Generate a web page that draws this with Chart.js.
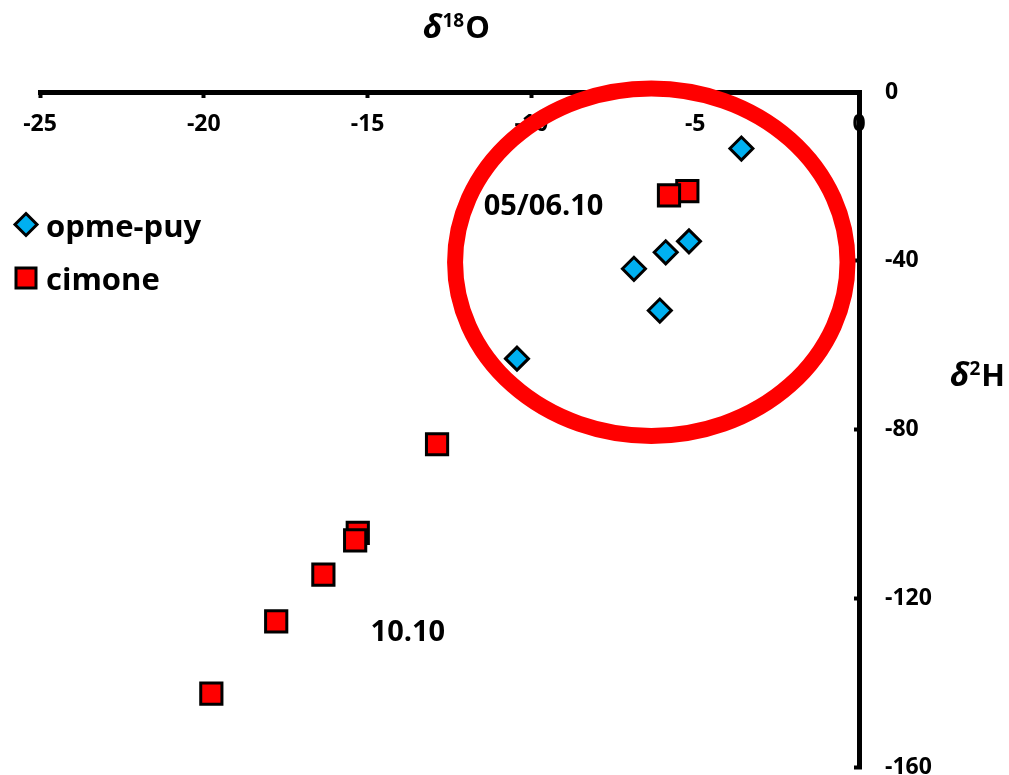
<!DOCTYPE html>
<html>
<head>
<meta charset="utf-8">
<script src="https://cdn.jsdelivr.net/npm/chart.js@4.4.1/dist/chart.umd.min.js"></script>
<style>
  html, body { margin: 0; padding: 0; background: #fff; overflow: hidden; }
  #wrap { width: 1009px; height: 785px; position: relative; }
</style>
</head>
<body>
<div id="wrap"><canvas id="chart"></canvas></div>
<script>
// data
const seriesNames = ['opme-puy', 'cimone'];
const opmeX = [-3.59, -5.19, -5.90, -6.87, -6.08, -10.44];
const opmeY = [-13.4, -35.4, -38.0, -41.9, -51.8, -63.2];
const cimoneX = [-5.24, -5.80, -12.88, -15.30, -15.38, -16.35, -17.79, -19.77];
const cimoneY = [-23.5, -24.5, -83.5, -104.5, -106.3, -114.4, -125.5, -142.6];
const xTicks = [-25, -20, -15, -10, -5, 0];
const yTicks = [0, -40, -80, -120, -160];
const groupLabels = ['05/06.10', '10.10'];

const FONT = "'Open Sans', 'DejaVu Sans', sans-serif";
Chart.defaults.font.family = FONT;
Chart.defaults.font.weight = 'bold';
Chart.defaults.color = '#000';

const toPoints = (xs, ys) => xs.map((x, i) => ({ x: x, y: ys[i] }));

// ellipse around the spring samples + group labels + legend + axis titles
const extras = {
  id: 'extras',
  afterDraw(chart) {
    const ctx = chart.ctx;
    const xs = chart.scales.x, ys = chart.scales.y;
    ctx.save();

    // red ellipse (data units)
    const cx = xs.getPixelForValue(-6.34), cy = ys.getPixelForValue(-40.35);
    const rx = xs.getPixelForValue(-6.34 + 5.99) - cx;
    const ry = ys.getPixelForValue(-40.35 - 41.18) - cy;
    ctx.beginPath();
    ctx.ellipse(cx, cy, Math.abs(rx), Math.abs(ry), 0, 0, Math.PI * 2);
    ctx.strokeStyle = '#ff0000';
    ctx.lineWidth = 16;
    ctx.stroke();

    // group labels
    ctx.fillStyle = '#000';
    ctx.font = 'bold 29px ' + FONT;
    ctx.textAlign = 'center';
    ctx.textBaseline = 'middle';
    ctx.fillText(groupLabels[0], xs.getPixelForValue(-9.63), ys.getPixelForValue(-27.1));
    ctx.fillText(groupLabels[1], xs.getPixelForValue(-13.77), ys.getPixelForValue(-128.15));

    // legend
    const items = [[26, 236.5], [26, 290]];
    ctx.textAlign = 'left';
    ctx.textBaseline = 'alphabetic';
    chart.data.datasets.forEach((ds, i) => {
      const [lx, ly] = items[i];
      const my = ly - 12;
      ctx.beginPath();
      if (ds.pointStyle === 'rectRot') {
        ctx.moveTo(lx, my - 11);
        ctx.lineTo(lx + 11, my);
        ctx.lineTo(lx, my + 11);
        ctx.lineTo(lx - 11, my);
        ctx.closePath();
      } else {
        ctx.rect(lx - 10, my - 10, 20, 20);
      }
      ctx.fillStyle = ds.backgroundColor;
      ctx.fill();
      ctx.lineWidth = 3;
      ctx.strokeStyle = '#000';
      ctx.stroke();
      ctx.fillStyle = '#000';
      ctx.font = 'bold 31px ' + FONT;
      ctx.fillText(ds.label, 46, ly);
    });

    // axis titles with superscripts
    const title = (x, y, sup, tail) => {
      ctx.font = 'italic bold 33px ' + FONT;
      ctx.fillText('δ', x, y);
      x += ctx.measureText('δ').width;
      ctx.font = 'bold 19px ' + FONT;
      ctx.fillText(sup, x, y - 11);
      x += ctx.measureText(sup).width + 1;
      ctx.font = 'bold 31px ' + FONT;
      ctx.fillText(tail, x, y);
    };
    title(423, 38, '18', 'O');
    title(950, 386, '2', 'H');
    ctx.restore();
  }
};

new Chart(document.getElementById('chart'), {
  type: 'scatter',
  data: {
    datasets: [
      {
        label: seriesNames[0],
        data: toPoints(opmeX, opmeY),
        pointStyle: 'rectRot',
        pointRadius: 11.5,
        pointHoverRadius: 11.5,
        backgroundColor: '#00b0f0',
        borderColor: '#000',
        borderWidth: 3
      },
      {
        label: seriesNames[1],
        data: toPoints(cimoneX, cimoneY),
        pointStyle: 'rect',
        pointRadius: 15,
        pointHoverRadius: 15,
        backgroundColor: '#ff0000',
        borderColor: '#000',
        borderWidth: 3
      }
    ]
  },
  options: {
    responsive: true,
    maintainAspectRatio: false,
    animation: false,
    layout: { padding: { left: 40, top: 0, right: 0, bottom: 0 } },
    plugins: {
      legend: { display: false },
      tooltip: { enabled: false }
    },
    scales: {
      x: {
        type: 'linear',
        position: 'top',
        min: xTicks[0],
        max: xTicks[xTicks.length - 1],
        afterBuildTicks: s => { s.ticks = xTicks.map(v => ({ value: v })); },
        afterFit: s => { s.height = 92; s.paddingLeft = 0; s.paddingRight = 0; },
        border: { display: true, color: '#000', width: 5 },
        grid: { drawOnChartArea: false, drawTicks: true, tickLength: -6, tickWidth: 4, tickColor: '#000' },
        ticks: { mirror: true, padding: 19, color: '#000', font: { size: 23, weight: 'bold' } }
      },
      y: {
        type: 'linear',
        position: 'right',
        min: yTicks[yTicks.length - 1],
        max: yTicks[0],
        afterBuildTicks: s => { s.ticks = yTicks.map(v => ({ value: v })); },
        afterFit: s => { s.width = 150; s.paddingTop = 0; s.paddingBottom = 0; },
        border: { display: true, color: '#000', width: 5 },
        grid: { drawOnChartArea: false, drawTicks: true, tickLength: -5, tickWidth: 4, tickColor: '#000' },
        ticks: { padding: 31, color: '#000', font: { size: 23, weight: 'bold' } }
      }
    }
  },
  plugins: [extras]
});
</script>
</body>
</html>
